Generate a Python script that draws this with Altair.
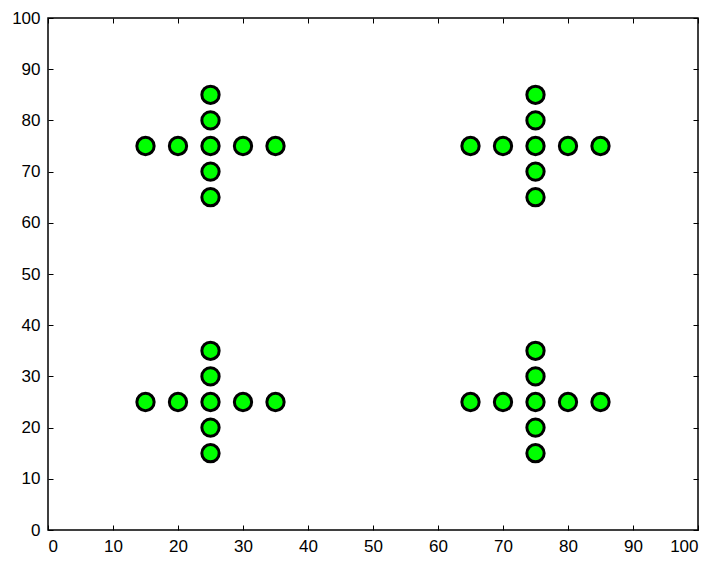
import altair as alt
import pandas as pd

x_vals = [15, 20, 25, 30, 35, 25, 25, 25, 25,
          65, 70, 75, 80, 85, 75, 75, 75, 75,
          15, 20, 25, 30, 35, 25, 25, 25, 25,
          65, 70, 75, 80, 85, 75, 75, 75, 75]
y_vals = [75, 75, 75, 75, 75, 65, 70, 80, 85,
          75, 75, 75, 75, 75, 65, 70, 80, 85,
          25, 25, 25, 25, 25, 15, 20, 30, 35,
          25, 25, 25, 25, 25, 15, 20, 30, 35]
tick_values = [0, 10, 20, 30, 40, 50, 60, 70, 80, 90, 100]

df = pd.DataFrame({"x": x_vals, "y": y_vals})

W, H = 650, 512
FONT = "Liberation Sans"

xs = alt.Scale(domain=[0, 100], nice=False, zero=False)
ys = alt.Scale(domain=[0, 100], nice=False, zero=False)

common = dict(values=tick_values, title=None, grid=False, domain=False,
              tickColor="black", tickWidth=1, tickSize=5)

base = alt.Chart(df)

# layer 1: labels on bottom/left, no ticks, and the actual points
pts = base.mark_point(shape="circle", filled=True, fill="#00ff00",
                      stroke="black", strokeWidth=3, size=300, opacity=1).encode(
    x=alt.X("x:Q", scale=xs, axis=alt.Axis(orient="bottom", values=tick_values, title=None,
                                          grid=False, domain=False, ticks=False, tickSize=0,
                                          labelPadding=8, labelFont=FONT, labelFontSize=17,
                                          labelColor="black")),
    y=alt.Y("y:Q", scale=ys, axis=alt.Axis(orient="left", values=tick_values, title=None,
                                          grid=False, domain=False, ticks=False, tickSize=0,
                                          labelPadding=8, labelFont=FONT, labelFontSize=17,
                                          labelColor="black")),
)

# layer 2: inward ticks at bottom and left edges
t1 = base.mark_point(opacity=0).encode(
    x=alt.X("x:Q", scale=xs, axis=alt.Axis(orient="top", offset=-H, labels=False, **common)),
    y=alt.Y("y:Q", scale=ys, axis=alt.Axis(orient="right", offset=-W, labels=False, **common)),
)

# layer 3: inward ticks at top and right edges
t2 = base.mark_point(opacity=0).encode(
    x=alt.X("x:Q", scale=xs, axis=alt.Axis(orient="bottom", offset=-H, labels=False, **common)),
    y=alt.Y("y:Q", scale=ys, axis=alt.Axis(orient="left", offset=-W, labels=False, **common)),
)

chart = alt.layer(t1, t2, pts).resolve_axis(x="independent", y="independent").properties(
    width=W, height=H,
    autosize=alt.AutoSizeParams(type="none"),
    padding={"left": 40, "top": 10, "right": 10, "bottom": 31},
    background="white",
).configure_view(stroke="black", strokeWidth=1.5)

chart.save("out.html", embed_options={"renderer": "svg", "actions": False})
